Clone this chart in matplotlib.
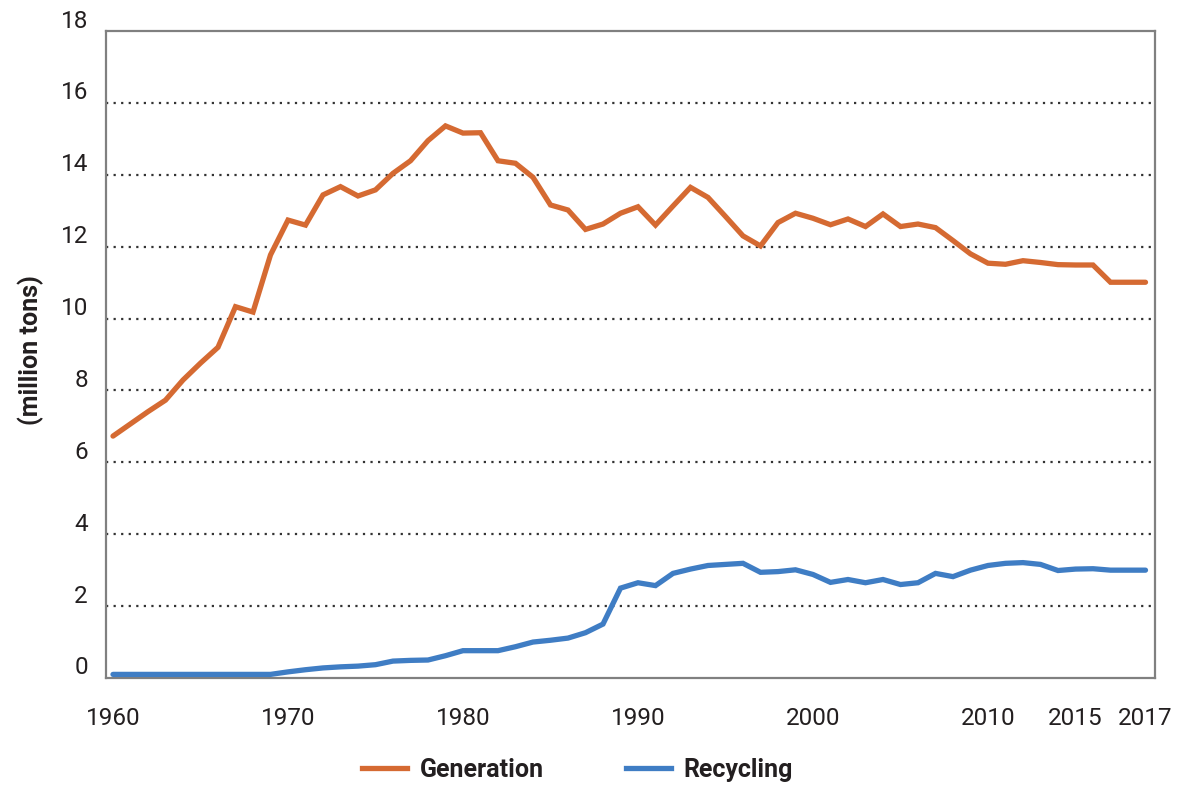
import matplotlib
matplotlib.use("Agg")
import matplotlib.pyplot as plt
from matplotlib.transforms import ScaledTranslation
from matplotlib.lines import Line2D
import numpy as np

plt.rcParams['font.family'] = ['Roboto', 'DejaVu Sans']

# Data: 60 annual points on a category axis (1960 ... 2017 labels)
period_index = list(range(60))
generation = [6.73, 7.07, 7.41, 7.73, 8.29, 8.76, 9.20, 10.33, 10.18, 11.77,
              12.74, 12.60, 13.44, 13.67, 13.41, 13.58, 14.04, 14.39, 14.95, 15.36,
              15.16, 15.17, 14.39, 14.32, 13.93, 13.16, 13.02, 12.48, 12.63, 12.93,
              13.11, 12.60, 13.13, 13.65, 13.37, 12.84, 12.30, 12.02, 12.67, 12.93,
              12.79, 12.61, 12.77, 12.56, 12.91, 12.56, 12.63, 12.53, 12.17, 11.80,
              11.54, 11.51, 11.61, 11.56, 11.50, 11.49, 11.49, 11.01, 11.01, 11.01]
recycling = [0.10, 0.10, 0.10, 0.10, 0.10, 0.10, 0.10, 0.10, 0.10, 0.10,
             0.17, 0.23, 0.28, 0.31, 0.33, 0.37, 0.47, 0.49, 0.50, 0.62,
             0.76, 0.76, 0.76, 0.87, 1.00, 1.05, 1.11, 1.26, 1.50, 2.50,
             2.65, 2.57, 2.91, 3.03, 3.13, 3.16, 3.19, 2.94, 2.96, 3.01,
             2.88, 2.66, 2.74, 2.65, 2.74, 2.60, 2.65, 2.91, 2.82, 3.00,
             3.13, 3.19, 3.21, 3.16, 2.99, 3.03, 3.04, 3.00, 3.00, 3.00]
xtick_pos = [0, 10, 20, 30, 40, 50, 55, 59]
xtick_labels = ['1960', '1970', '1980', '1990', '2000', '2010', '2015', '2017']
ytick_vals = [0, 2, 4, 6, 8, 10, 12, 14, 16, 18]
series_names = ['Generation', 'Recycling']

C_GEN = '#D56A32'
C_REC = '#3F7DC4'
TXT = '#231f20'

fig = plt.figure(figsize=(11.79, 7.89), dpi=100)
ax = fig.add_axes([0.0899, 0.1407, 0.8897, 0.8200])

ax.plot(period_index, generation, color=C_GEN, lw=3.8, solid_joinstyle='miter',
        solid_capstyle='round', zorder=3)
ax.plot(period_index, recycling, color=C_REC, lw=3.8, solid_joinstyle='miter',
        solid_capstyle='round', zorder=3)

ax.set_xlim(-0.4, 59.54)
ax.set_ylim(0, 18)

for v in ytick_vals[1:-1]:
    ax.axhline(v, color='#333333', lw=1.6, ls=(0, (1, 2.4)), zorder=1)

for s in ax.spines.values():
    s.set_color('#808080')
    s.set_linewidth(1.6)

ax.set_yticks(ytick_vals)
ax.set_yticklabels([str(v) for v in ytick_vals])
ax.set_xticks(xtick_pos)
ax.set_xticklabels(xtick_labels)
ax.tick_params(axis='both', length=0, labelsize=17.5, colors=TXT)
ax.tick_params(axis='y', pad=13)
ax.tick_params(axis='x', pad=21)

off = ScaledTranslation(0, 9 / 72, fig.dpi_scale_trans)
for lab in ax.get_yticklabels():
    lab.set_transform(lab.get_transform() + off)

fig.text(0.026, 0.556, '(million tons)', rotation=90, ha='center', va='center',
         fontsize=18, fontweight='bold', color=TXT)

handles = [Line2D([], [], color=C_GEN, lw=3.8),
           Line2D([], [], color=C_REC, lw=3.8)]
leg = fig.legend(handles, series_names, loc='center', bbox_to_anchor=(0.49, 0.024),
                 ncol=2, frameon=False, handlelength=1.8, handletextpad=0.5,
                 columnspacing=3.3, prop={'size': 18, 'weight': 'bold'})
for t in leg.get_texts():
    t.set_color(TXT)

fig.savefig('out.png', dpi=100)
